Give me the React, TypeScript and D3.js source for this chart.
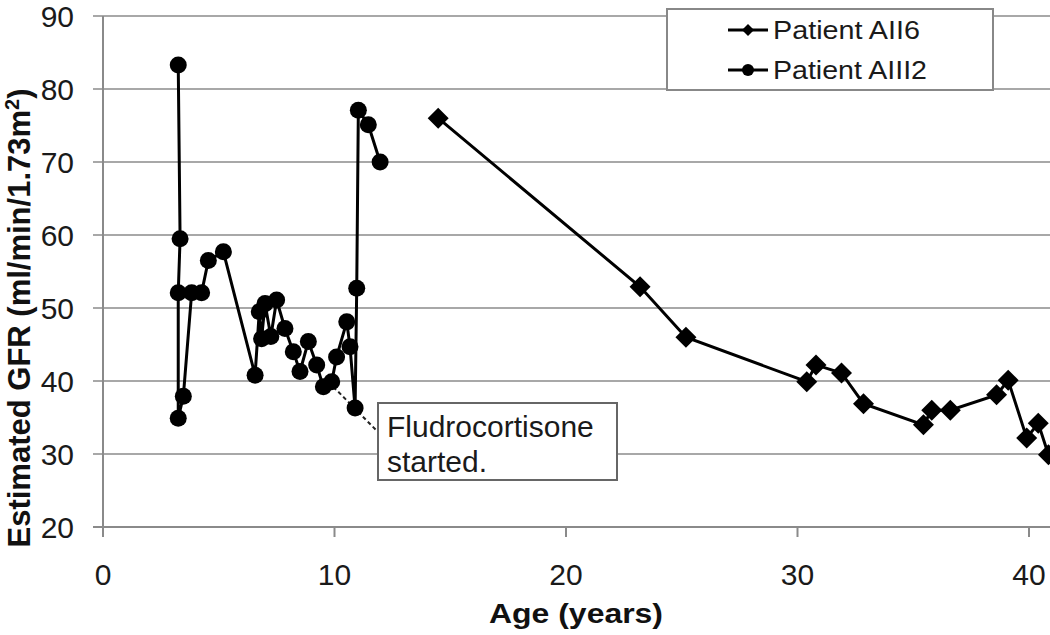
import React from "react";
import * as d3 from "d3";

// ---- data ----
const aii6Age = [14.48, 23.2, 25.18, 30.4, 30.8, 31.9, 32.85, 35.44, 35.8, 36.6, 38.6, 39.1, 39.9, 40.4, 40.84];
const aii6Gfr = [76.0, 52.9, 46.0, 39.9, 42.2, 41.1, 36.9, 34.0, 36.0, 36.0, 38.1, 40.1, 32.2, 34.2, 29.9];

const aiii2Age = [3.25, 3.33, 3.25, 3.25, 3.47, 3.83, 4.26, 4.55, 5.2, 6.57, 6.75, 6.85, 7.0, 7.25, 7.5, 7.86, 8.22, 8.51, 8.87, 9.23, 9.52, 9.88, 10.09, 10.53, 10.67, 10.89, 10.96, 11.03, 11.46, 11.97];
const aiii2Gfr = [83.3, 59.5, 52.1, 34.9, 37.9, 52.1, 52.1, 56.5, 57.7, 40.8, 49.5, 45.8, 50.6, 46.1, 51.1, 47.2, 44.0, 41.3, 45.4, 42.2, 39.2, 39.9, 43.3, 48.1, 44.7, 36.3, 52.7, 77.1, 75.1, 70.0];

const xTicks = [0, 10, 20, 30, 40];
const yTicks = [20, 30, 40, 50, 60, 70, 80, 90];
const seriesNames = ["Patient AII6", "Patient AIII2"];
const annotationLines = ["Fludrocortisone", "started."];
const annotationAnchor = { age: 9.95, gfr: 39.2 };

export default function App() {
  const x = d3.scaleLinear().domain([0, 40]).range([103, 1029]);
  const y = d3.scaleLinear().domain([20, 90]).range([527, 16]);
  const xRight = 1050;

  const aii6 = aii6Age.map((a, i) => [a, aii6Gfr[i]] as [number, number]);
  const aiii2 = aiii2Age.map((a, i) => [a, aiii2Gfr[i]] as [number, number]);
  const line = d3.line<[number, number]>().x((d) => x(d[0])).y((d) => y(d[1]));

  const diamond = (cx: number, cy: number, r: number) =>
    `M${cx},${cy - r}L${cx + r},${cy}L${cx},${cy + r}L${cx - r},${cy}Z`;

  const font = "'Liberation Sans', Arial, sans-serif";
  const grid = "#a8a8a8";
  const axisC = "#8a8a8a";

  return (
    <svg width={1050} height={635} style={{ position: "absolute", left: 0, top: 0, background: "#fff" }}>
      <rect x={0} y={0} width={1050} height={635} fill="#fff" />
      {/* gridlines */}
      {yTicks.filter((t) => t > 20).map((t) => (
        <line key={t} x1={93} x2={xRight} y1={y(t)} y2={y(t)} stroke={grid} strokeWidth={2} />
      ))}
      {/* axes */}
      <line x1={x(0)} x2={x(0)} y1={y(90)} y2={y(20) + 10} stroke={axisC} strokeWidth={2} />
      <line x1={93} x2={xRight} y1={y(20)} y2={y(20)} stroke={axisC} strokeWidth={2} />
      {xTicks.map((t) => (
        <line key={t} x1={x(t)} x2={x(t)} y1={y(20)} y2={y(20) + 10} stroke={axisC} strokeWidth={2} />
      ))}
      {yTicks.map((t) => (
        <text key={t} x={74} y={y(t)} dy="0.36em" textAnchor="end" fontFamily={font} fontSize={30} fill="#1a1a1a">
          {t}
        </text>
      ))}
      {xTicks.map((t) => (
        <text key={t} x={x(t)} y={585} textAnchor="middle" fontFamily={font} fontSize={30} fill="#1a1a1a">
          {t}
        </text>
      ))}
      <text x={576} y={623} textAnchor="middle" fontFamily={font} fontSize={28} fontWeight="bold" fill="#111"
        textLength={174} lengthAdjust="spacingAndGlyphs">
        Age (years)
      </text>
      <text transform={`translate(30,${318}) rotate(-90)`} textAnchor="middle" fontFamily={font} fontSize={31}
        fontWeight="bold" fill="#111">
        Estimated GFR (ml/min/1.73m<tspan dy={-11} fontSize={20}>2</tspan><tspan dy={11}>)</tspan>
      </text>

      {/* annotation leader */}
      <line x1={x(annotationAnchor.age)} y1={y(annotationAnchor.gfr)} x2={378} y2={432}
        stroke="#222" strokeWidth={2} strokeDasharray="4,3" />

      {/* series */}
      <path d={line(aiii2) || ""} fill="none" stroke="#000" strokeWidth={3} />
      {aiii2.map((d, i) => (
        <circle key={i} cx={x(d[0])} cy={y(d[1])} r={8.5} fill="#000" />
      ))}
      <path d={line(aii6) || ""} fill="none" stroke="#000" strokeWidth={3} />
      {aii6.map((d, i) => (
        <path key={i} d={diamond(x(d[0]), y(d[1]), 10.5)} fill="#000" />
      ))}

      {/* annotation box */}
      <rect x={378} y={403} width={239} height={77} fill="#fff" stroke="#666" strokeWidth={2} />
      {annotationLines.map((s, i) => (
        <text key={s} x={387} y={437 + i * 35} fontFamily={font} fontSize={30} fill="#1a1a1a">
          {s}
        </text>
      ))}

      {/* legend */}
      <rect x={667} y={9} width={326} height={81} fill="#fff" stroke="#888" strokeWidth={2} />
      {seriesNames.map((s, i) => {
        const ly = 30 + i * 40;
        return (
          <g key={s}>
            <line x1={728} x2={768} y1={ly} y2={ly} stroke="#000" strokeWidth={3} />
            {i === 0 ? (
              <path d={diamond(748, ly, 6)} fill="#000" />
            ) : (
              <circle cx={748} cy={ly} r={6} fill="#000" />
            )}
            <text x={773} y={ly + 9} fontFamily={font} fontSize={25} fill="#1a1a1a"
              textLength={i === 0 ? 147 : 154} lengthAdjust="spacingAndGlyphs">
              {s}
            </text>
          </g>
        );
      })}
    </svg>
  );
}
